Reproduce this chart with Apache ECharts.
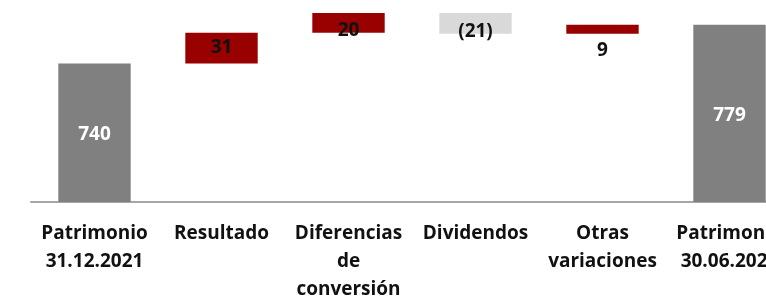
<!DOCTYPE html>
<html>
  <head>
    <meta http-equiv="Content-Type" content="text/html; charset=utf-8">
    <title>Patrimonio</title>
    <style>
      html, body { margin: 0; padding: 0; background: #fff; }
      #chart { width: 766px; height: 296px; }
    </style>
    <script src="https://cdn.jsdelivr.net/npm/echarts@6/dist/echarts.min.js"></script>
  </head>
  <body>
    <div id="chart"></div>
    <script type="text/javascript">
      // datos del puente de patrimonio
      var categorias = ['Patrimonio\n31.12.2021', 'Resultado', 'Diferencias\nde\nconversión', 'Dividendos', 'Otras\nvariaciones', 'Patrimonio\n30.06.2022'];
      var variaciones = [740, 31, 20, -21, 9, 779];
      var esTotal = [true, false, false, false, false, true];
      var etiquetas = ['740', '31', '20', '(21)', '9', '779'];

      var base = [], alto = [];
      var acum = 0;
      for (var i = 0; i < variaciones.length; i++) {
        var v = variaciones[i];
        if (esTotal[i]) {
          base.push(0);
          alto.push(v);
          acum = v;
        } else if (v >= 0) {
          base.push(acum);
          alto.push(v);
          acum += v;
        } else {
          acum += v;
          base.push(acum);
          alto.push(-v);
        }
      }

      var colorTotal = '#808080', colorSube = '#990000', colorBaja = '#d9d9d9';

      var datos = alto.map(function (h, i) {
        var item = { value: h, itemStyle: {}, label: {} };
        if (esTotal[i]) {
          item.itemStyle.color = colorTotal;
          item.label = { position: 'inside', color: '#fff', offset: [0, 2] };
        } else if (variaciones[i] < 0) {
          item.itemStyle.color = colorBaja;
          item.label = { position: 'inside', offset: [0, 8] };
        } else {
          item.itemStyle.color = colorSube;
          if (h >= 25) item.label = { position: 'inside' };
          else if (h >= 15) item.label = { position: 'inside', offset: [0, 8] };
          else item.label = { position: 'bottom', distance: 7 };
        }
        return item;
      });

      var myChart = echarts.init(document.getElementById('chart'));
      myChart.setOption({
        animation: false,
        textStyle: { fontFamily: 'Open Sans' },
        grid: { left: 31, top: 4, width: 762, height: 198, outerBoundsMode: 'none', containLabel: false },
        xAxis: {
          type: 'category',
          data: categorias,
          axisLine: { lineStyle: { color: '#a6a6a6', width: 2 } },
          axisTick: { show: false },
          axisLabel: {
            interval: 0,
            margin: 18,
            color: '#111',
            fontWeight: 'bold',
            fontSize: 19,
            lineHeight: 28,
            fontFamily: 'Open Sans'
          }
        },
        yAxis: {
          type: 'value',
          min: 600,
          max: 800,
          show: false
        },
        series: [{
          type: 'bar',
          stack: 'w',
          data: base,
          itemStyle: { color: 'transparent' },
          silent: true
        }, {
          type: 'bar',
          stack: 'w',
          barWidth: '57%',
          data: datos,
          label: {
            show: true,
            color: '#111',
            fontWeight: 'bold',
            fontSize: 19,
            fontFamily: 'Open Sans',
            formatter: function (p) { return etiquetas[p.dataIndex]; }
          }
        }]
      });
    </script>
  </body>
</html>
